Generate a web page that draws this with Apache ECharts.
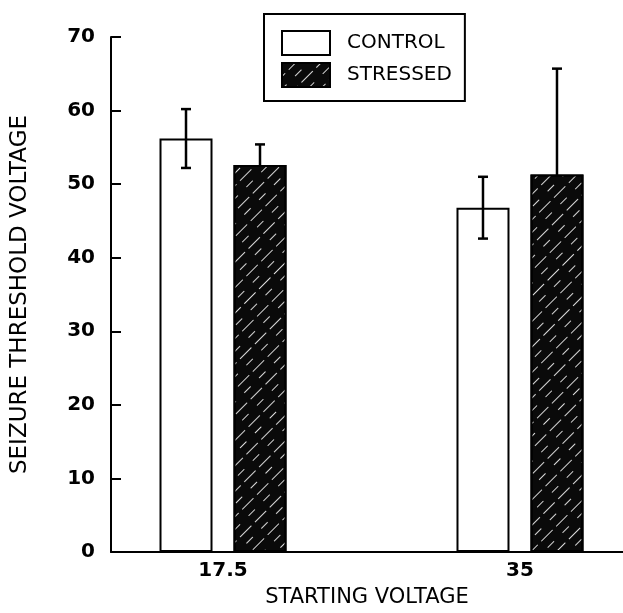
<!DOCTYPE html>
<html>
<head>
<meta charset="utf-8">
<script src="https://cdn.jsdelivr.net/npm/echarts@6/dist/echarts.min.js"></script>
<style>
  html, body { margin: 0; padding: 0; background: #fff; }
  #chart { width: 623px; height: 613px; }
</style>
</head>
<body>
<div id="chart"></div>
<script>
// starting voltages (x categories)
var startVoltages = [17.5, 35]
var controlMeans = [56.2, 46.8]
var controlErrs = [4.0, 4.2]
var stressedMeans = [52.6, 51.3]
var stressedErrs = [2.8, 14.4]
var yTicks = [0, 10, 20, 30, 40, 50, 60, 70]

var BAR_W = 53
var BAR_GAP = 21
var font = 'DejaVu Sans'

var chart = echarts.init(document.getElementById('chart'))

function pairs(xs, ys) {
  return xs.map(function (x, i) { return [x, ys[i]] })
}

function errData(means, errs, side) {
  return startVoltages.map(function (x, i) { return [x, means[i], errs[i], side] })
}

function renderErr(params, api) {
  var x = api.value(0)
  var m = api.value(1)
  var e = api.value(2)
  var side = api.value(3)
  var off = side * (BAR_W + BAR_GAP) / 2
  var hi = api.coord([x, m + e])
  var lo = api.coord([x, m - e])
  var cx = hi[0] + off
  var cap = 5
  var style = { stroke: '#000', lineWidth: 2.5 }
  return {
    type: 'group',
    children: [
      { type: 'line', shape: { x1: cx, y1: hi[1], x2: cx, y2: lo[1] }, style: style },
      { type: 'line', shape: { x1: cx - cap, y1: hi[1], x2: cx + cap, y2: hi[1] }, style: style },
      { type: 'line', shape: { x1: cx - cap, y1: lo[1], x2: cx + cap, y2: lo[1] }, style: style }
    ]
  }
}

var option = {
  backgroundColor: '#fff',
  animation: false,
  grid: { left: 111, right: 0, top: 37, bottom: 51 },
  legend: {
    orient: 'vertical',
    left: 264,
    top: 14,
    padding: [16, 13, 13, 17],
    itemGap: 6,
    itemWidth: 48,
    itemHeight: 24,
    borderColor: '#000',
    borderWidth: 2,
    icon: 'rect',
    textStyle: { fontFamily: font, fontSize: 20, color: '#000', padding: [0, 0, 0, 12] },
    data: ['CONTROL', 'STRESSED']
  },
  xAxis: {
    type: 'value',
    min: 10.9,
    max: 41.07,
    name: 'STARTING VOLTAGE',
    nameLocation: 'middle',
    nameGap: 35,
    nameTextStyle: { fontFamily: font, fontSize: 21, color: '#000' },
    axisLine: { lineStyle: { color: '#000', width: 2 } },
    axisTick: { show: false },
    splitLine: { show: false },
    axisLabel: {
      customValues: startVoltages,
      fontFamily: font,
      fontSize: 20,
      fontWeight: 'bold',
      color: '#000',
      margin: 9
    }
  },
  yAxis: {
    type: 'value',
    min: 0,
    max: 70,
    interval: 10,
    name: 'SEIZURE THRESHOLD VOLTAGE',
    nameLocation: 'middle',
    nameGap: 79,
    nameTextStyle: { fontFamily: font, fontSize: 23, color: '#000' },
    axisLine: { show: true, lineStyle: { color: '#000', width: 2 } },
    axisTick: { show: true, inside: true, length: 10, lineStyle: { color: '#000', width: 2 } },
    splitLine: { show: false },
    axisLabel: {
      fontFamily: font,
      fontSize: 20,
      fontWeight: 'bold',
      color: '#000',
      margin: 16,
      formatter: function (v) { return yTicks.indexOf(v) >= 0 ? String(v) : '' }
    }
  },
  series: [
    {
      name: 'CONTROL',
      type: 'bar',
      barWidth: BAR_W,
      barGap: (BAR_GAP / BAR_W * 100) + '%',
      itemStyle: { color: '#fff', borderColor: '#000', borderWidth: 2 },
      data: pairs(startVoltages, controlMeans)
    },
    {
      name: 'STRESSED',
      type: 'bar',
      barWidth: BAR_W,
      barGap: (BAR_GAP / BAR_W * 100) + '%',
      itemStyle: {
        color: '#0a0a0a',
        borderColor: '#000',
        borderWidth: 2,
        decal: {
          symbol: 'rect',
          color: '#d8d8d8',
          dashArrayX: [[16, 5], [9, 12]],
          dashArrayY: [1, 8],
          rotation: -Math.PI / 4
        }
      },
      data: pairs(startVoltages, stressedMeans)
    },
    {
      type: 'custom',
      renderItem: renderErr,
      z: 10,
      silent: true,
      data: errData(controlMeans, controlErrs, -1)
    },
    {
      // drawn behind the dark bars so only the upper half shows
      type: 'custom',
      renderItem: renderErr,
      z: 1,
      silent: true,
      data: errData(stressedMeans, stressedErrs, 1)
    }
  ]
}

chart.setOption(option)
</script>
</body>
</html>
